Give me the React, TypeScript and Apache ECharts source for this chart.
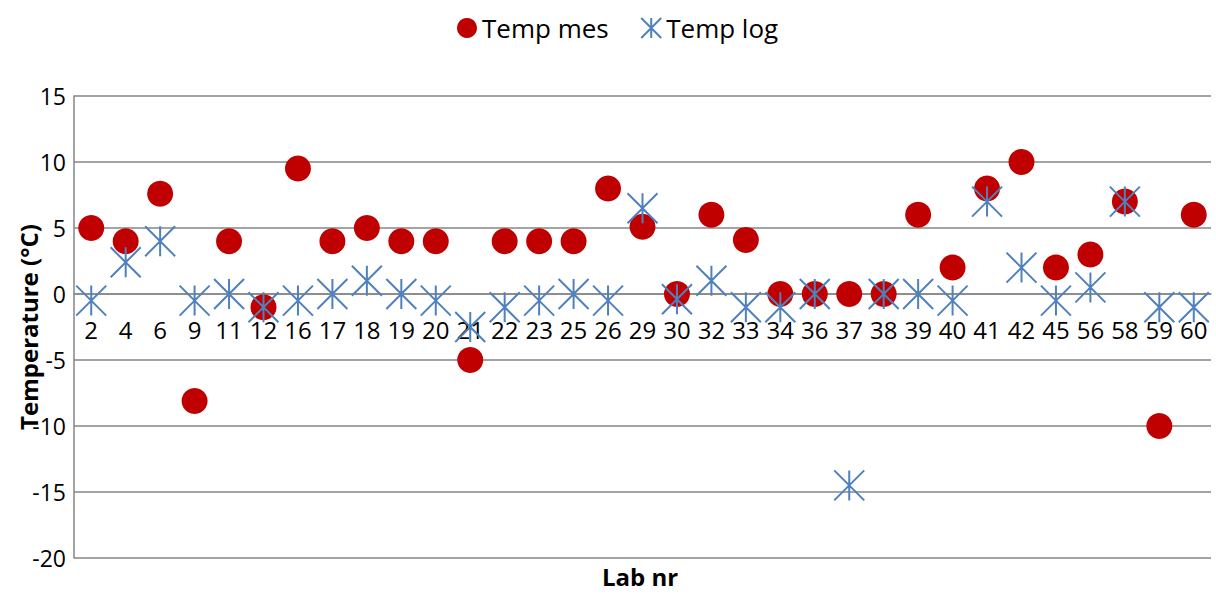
import React, { useEffect, useRef } from "react";
import * as echarts from "echarts";

const labNr = ["2","4","6","9","11","12","16","17","18","19","20","21","22","23","25","26","29","30","32","33","34","36","37","38","39","40","41","42","45","56","58","59","60"];
const tempMes = [5,4,7.6,-8.1,4,-1,9.5,4,5,4,4,-5,4,4,4,8,5.1,0,6,4.1,0,0,0,0,6,2,8,10,2,3,7,-10,6];
const tempLog = [-0.5,2.4,4,-0.5,0,-1,-0.5,0,1,0,-0.5,-2.5,-1,-0.5,0,-0.5,6.5,-0.4,1,-1,-1,0,-14.5,0,0,-0.5,7,2,-0.5,0.5,7,-1,-1];
const yTicks = { min: -20, max: 15, interval: 5 };

const FONT = "'Open Sans', 'Noto Sans', sans-serif";
const ASTERISK = "path://M0 0L30 30M30 0L0 30M15 0L15 30";

const GRID_TOP = 96;
const GRID_BOTTOM = 37;
const HEIGHT = 595;

export default function App() {
  const ref = useRef<HTMLDivElement>(null);
  useEffect(() => {
    document.body.style.margin = "0";
    const chart = echarts.init(ref.current!, null, { renderer: "svg" });
    const plotH = HEIGHT - GRID_TOP - GRID_BOTTOM;
    // move the category axis up to the y = 0 line
    const zeroOffset = -plotH * (0 - yTicks.min) / (yTicks.max - yTicks.min);
    chart.setOption({
      animation: false,
      backgroundColor: "#ffffff",
      textStyle: { fontFamily: FONT },
      legend: {
        left: 452,
        top: 10,
        itemWidth: 20,
        itemHeight: 20,
        itemGap: 30,
        textStyle: { fontFamily: FONT, fontSize: 26, color: "#000" },
        data: ["Temp mes", "Temp log"],
      },
      grid: { left: 74, right: 5, top: GRID_TOP, bottom: GRID_BOTTOM, containLabel: false, outerBoundsMode: "none" },
      xAxis: {
        type: "category",
        data: labNr,
        offset: zeroOffset,
        axisLine: { onZero: false, lineStyle: { color: "#868686", width: 1.5 } },
        axisTick: { show: false },
        axisLabel: { color: "#000", fontSize: 24, fontFamily: FONT, margin: 23, interval: 0 },
        splitLine: { show: false },
      },
      yAxis: {
        type: "value",
        min: yTicks.min,
        max: yTicks.max,
        interval: yTicks.interval,
        name: "Temperature (°C)",
        nameLocation: "middle",
        nameGap: 34,
        nameMoveOverlap: false,
        nameTextStyle: { fontFamily: FONT, fontSize: 24, fontWeight: "bold", color: "#000" },
        axisLine: { show: true, lineStyle: { color: "#868686", width: 1.5 } },
        axisTick: { show: false },
        axisLabel: { color: "#000", fontSize: 23, fontFamily: FONT, margin: 8 },
        splitLine: { show: true, lineStyle: { color: "#868686", width: 1.5 } },
      },
      graphic: [
        {
          type: "text",
          left: 602,
          top: 564,
          style: { text: "Lab nr", font: `bold 24px ${FONT}`, fill: "#000" },
        },
      ],
      series: [
        {
          name: "Temp mes",
          type: "scatter",
          data: tempMes,
          symbol: "circle",
          symbolSize: 26,
          itemStyle: { color: "#C00000", opacity: 1 },
          z: 2,
        },
        {
          name: "Temp log",
          type: "scatter",
          data: tempLog,
          symbol: ASTERISK,
          symbolSize: 30,
          itemStyle: { color: "none", borderColor: "#4F81BD", borderWidth: 2, opacity: 1 },
          z: 3,
        },
      ],
    });
    return () => chart.dispose();
  }, []);
  return <div ref={ref} style={{ width: 1216, height: 595 }} />;
}
